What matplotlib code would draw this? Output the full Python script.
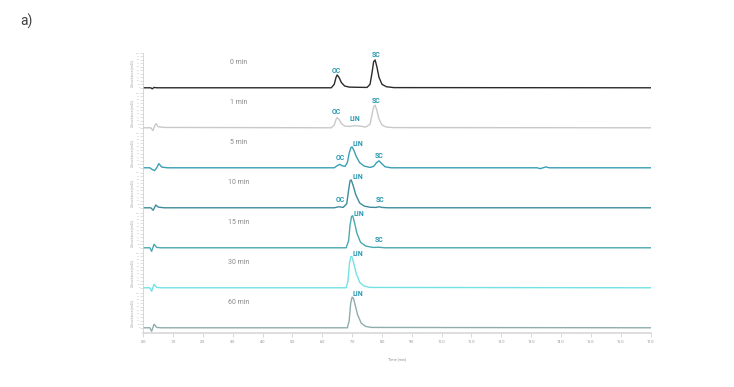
import matplotlib
matplotlib.use('Agg')
import matplotlib.pyplot as plt
import numpy as np

plt.rcParams['font.family'] = ['Roboto', 'DejaVu Sans']

# chromatogram traces (time [min], absorbance, scaled per panel)
t_0 = [0, 0.25, 0.3, 0.36, 0.45, 6.3, 6.4, 6.46, 6.5, 6.56, 6.64, 6.75, 6.9, 7.1, 7.5, 7.6, 7.67, 7.72, 7.77, 7.83, 7.9, 8.0, 8.15, 8.4, 17]
y_0 = [0, 0, -0.03, 0.01, 0, 0, 0.1, 0.3, 0.37, 0.3, 0.15, 0.05, 0.02, 0.015, 0.01, 0.1, 0.45, 0.75, 0.8, 0.6, 0.3, 0.1, 0.03, 0.005, 0]

t_1 = [0, 0.25, 0.32, 0.38, 0.43, 0.5, 0.7, 6.3, 6.4, 6.46, 6.5, 6.56, 6.64, 6.75, 6.9, 7.0, 7.1, 7.25, 7.45, 7.6, 7.67, 7.72, 7.77, 7.83, 7.9, 8.0, 8.15, 8.4, 17]
y_1 = [0, 0, -0.08, 0.05, 0.12, 0.03, 0.01, 0, 0.08, 0.24, 0.29, 0.24, 0.12, 0.05, 0.04, 0.05, 0.06, 0.05, 0.02, 0.1, 0.4, 0.6, 0.65, 0.5, 0.25, 0.08, 0.02, 0.005, 0]

t_5 = [0, 0.22, 0.3, 0.38, 0.45, 0.52, 0.62, 0.8, 6.4, 6.5, 6.58, 6.66, 6.76, 6.84, 6.9, 6.96, 7.0, 7.06, 7.14, 7.25, 7.4, 7.6, 7.72, 7.82, 7.9, 7.98, 8.1, 8.3, 13.2, 13.3, 13.4, 13.5, 13.6, 17]
y_5 = [0, 0, -0.05, -0.08, 0, 0.12, 0.02, 0, 0, 0.06, 0.1, 0.06, 0.04, 0.15, 0.42, 0.58, 0.6, 0.5, 0.32, 0.15, 0.05, 0.01, 0.04, 0.15, 0.2, 0.13, 0.03, 0, 0, -0.025, 0, 0.025, 0, 0]

t_10 = [0, 0.25, 0.33, 0.42, 0.5, 0.7, 6.4, 6.55, 6.7, 6.82, 6.88, 6.93, 6.97, 7.03, 7.12, 7.25, 7.4, 7.6, 7.8, 7.9, 8.0, 8.2, 17]
y_10 = [0, 0, -0.07, 0.08, 0.02, 0, 0, 0.03, 0.01, 0.12, 0.5, 0.78, 0.8, 0.65, 0.38, 0.14, 0.05, 0.015, 0.01, 0.03, 0.01, 0, 0]

t_15 = [0, 0.22, 0.28, 0.36, 0.45, 0.6, 6.8, 6.88, 6.93, 6.98, 7.02, 7.08, 7.16, 7.28, 7.45, 7.7, 7.9, 8.1, 17]
y_15 = [0, 0, -0.1, 0.1, 0.01, 0, 0, 0.2, 0.65, 0.9, 0.92, 0.72, 0.42, 0.16, 0.05, 0.01, 0.015, 0, 0]

t_30 = [0, 0.22, 0.28, 0.36, 0.45, 0.6, 6.8, 6.86, 6.91, 6.96, 7.0, 7.06, 7.14, 7.26, 7.4, 7.6, 17]
y_30 = [0, 0, -0.1, 0.1, 0.01, 0, 0, 0.2, 0.7, 0.9, 0.88, 0.68, 0.4, 0.15, 0.05, 0.01, 0]

t_60 = [0, 0.22, 0.28, 0.36, 0.45, 0.6, 6.84, 6.9, 6.95, 7.0, 7.04, 7.1, 7.18, 7.3, 7.45, 7.65, 17]
y_60 = [0, 0, -0.1, 0.1, 0.01, 0, 0, 0.2, 0.7, 0.88, 0.86, 0.66, 0.38, 0.14, 0.04, 0.01, 0]

times = [t_0, t_1, t_5, t_10, t_15, t_30, t_60]
signals = [y_0, y_1, y_5, y_10, y_15, y_30, y_60]
panel_names = ['0 min', '1 min', '5 min', '10 min', '15 min', '30 min', '60 min']
colors = ['#2b2b2b', '#c9c9c9', '#3aa0b5', '#3d8c9b', '#4aa8b0', '#72e2e6', '#8fadad']

# peak labels: (panel, name, time, height)
peak_panel = [0, 0, 1, 1, 1, 2, 2, 2, 3, 3, 3, 4, 4, 5, 6]
peak_name = ['OC', 'SC', 'OC', 'LIN', 'SC', 'OC', 'LIN', 'SC', 'OC', 'LIN', 'SC', 'LIN', 'SC', 'LIN', 'LIN']
peak_time = [6.48, 7.79, 6.48, 7.1, 7.79, 6.6, 7.2, 7.9, 6.6, 7.2, 7.93, 7.21, 7.9, 7.2, 7.2]
peak_height = [0.49, 0.94, 0.46, 0.24, 0.78, 0.29, 0.67, 0.35, 0.21, 0.88, 0.21, 0.96, 0.21, 0.98, 0.96]

W, H = 734, 387
fig = plt.figure(figsize=(W / 100, H / 100), dpi=100)

left = 143.3 / W
width = (650.5 - 143.3) / W
top_px = 53
ph = 40
axes = []
for k in range(7):
    bottom = 1 - (top_px + ph * (k + 1)) / H
    ax = fig.add_axes([left, bottom, width, ph / H])
    axes.append(ax)

for k, ax in enumerate(axes):
    ax.plot(times[k], signals[k], color=colors[k], lw=1.0)
    ax.set_xlim(0, 17)
    ax.set_ylim(-0.15, 1.0)
    for s in ['top', 'right', 'bottom']:
        ax.spines[s].set_visible(False)
    ax.spines['left'].set_color('#d0d0d0')
    ax.spines['left'].set_linewidth(0.6)
    ax.set_yticks(np.arange(0, 1.01, 0.1))
    ax.set_yticklabels(['%d' % i for i in range(0, 110, 10)])
    ax.tick_params(axis='y', length=2, width=0.4, color='#c8c8c8', labelsize=1.6,
                   labelcolor='#b0b0b0', pad=0.5)
    ax.set_ylabel('Absorbance [mAU]', fontsize=2.3, color='#a8a8a8', labelpad=1)
    ax.text(3.2, 0.74, panel_names[k], fontsize=5, color='#8a8a8a', ha='center', va='center')
    if k < 6:
        ax.set_xticks([])
    else:
        ax.spines['bottom'].set_visible(True)
        ax.spines['bottom'].set_color('#d8d8d8')
        ax.spines['bottom'].set_linewidth(1.2)
        ax.set_xticks(np.arange(0, 18, 1))
        ax.set_xticklabels(['%.1f' % v for v in range(18)])
        ax.tick_params(axis='x', length=3, width=0.5, color='#c8c8c8', labelsize=2.8,
                       labelcolor='#909090', pad=2)
        ax.set_xlabel('Time [min]', fontsize=2.8, color='#909090', labelpad=10)
    ax.patch.set_alpha(0)

for p, name, tx, hy in zip(peak_panel, peak_name, peak_time, peak_height):
    axes[p].text(tx, hy, name, fontsize=5, fontweight='bold', color='#2596b0',
                 ha='center', va='center')

fig.text(20 / W, 1 - 21 / H, 'a)', fontsize=10, color='#404040', ha='left', va='center')

fig.savefig('out.png', dpi=100)
